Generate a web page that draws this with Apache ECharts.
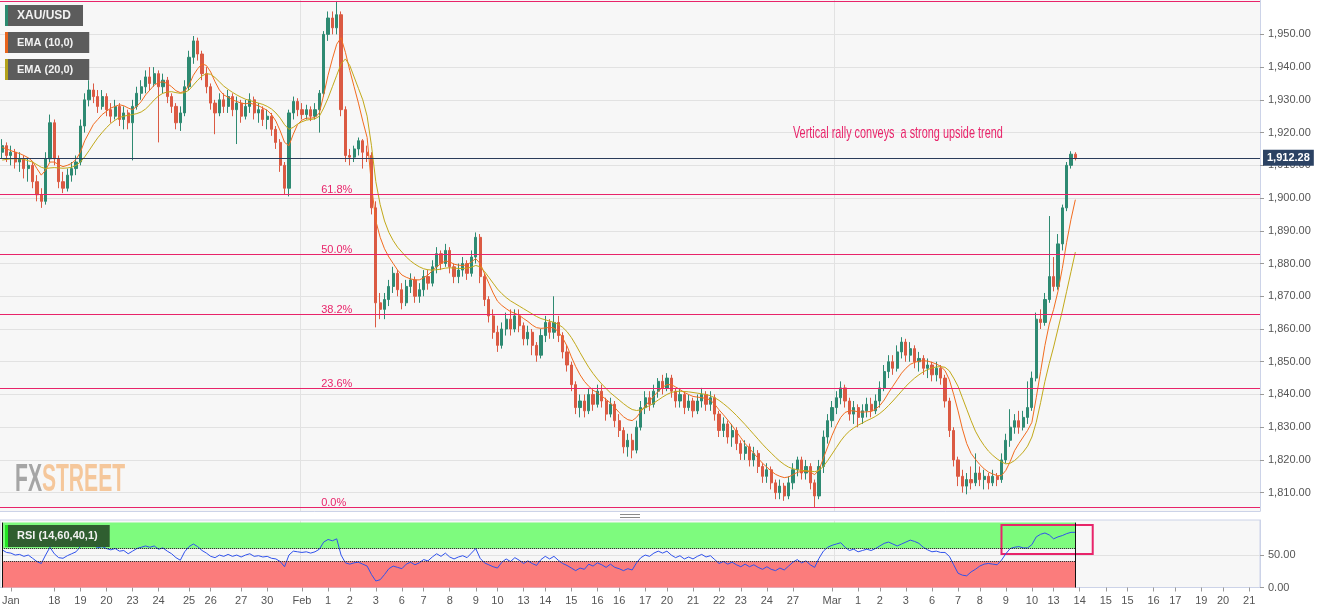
<!DOCTYPE html>
<html>
<head>
<meta charset="utf-8">
<script src="https://cdn.jsdelivr.net/npm/echarts@6/dist/echarts.min.js"></script>
<style>
html,body{margin:0;padding:0;background:#ffffff;}
#chart{width:1331px;height:615px;}
</style>
</head>
<body>
<div id="chart"></div>
<script>
// ---- DATA (4-hour XAU/USD candles: [open, close, low, high]) ----
const candlesJan = [
[1914,1916,1912,1918],[1916,1913,1911,1917],[1913,1914,1910,1916],[1914,1911,1909,1915],[1911,1912,1908,1914],[1912,1909,1906,1913],[1909,1910,1905,1912],[1910,1905,1903,1911],[1905,1901,1899,1907],[1901,1899,1897,1903],
[1899,1912,1898,1914],[1912,1923,1911,1925.5],[1923,1912,1910,1924],[1912,1905,1903,1913],[1905,1903,1901.5,1908],[1903,1907,1902,1909],[1907,1909,1905,1911],[1909,1911,1907,1913],[1911,1922,1910,1924],[1922,1930,1920,1932],
[1930,1933,1928,1936],[1933,1931,1929,1935],[1931,1928,1926,1933],[1928,1931,1927,1933],[1931,1927,1925,1932],[1927,1925,1923,1929],[1925,1928,1924,1930],[1928,1924,1922,1929],[1924,1926,1921,1928],[1926,1923,1921,1927],
[1923,1928,1911.5,1930],[1928,1932,1927,1934],[1932,1934,1930,1936],[1934,1937,1932,1939],[1937,1935,1933,1940],[1935,1938,1934,1940],[1938,1934,1917,1939],[1934,1936,1932,1938],[1936,1931,1929,1937],[1931,1928,1926,1932],
[1928,1923,1921,1929],[1923,1926,1920.5,1928],[1926,1934,1925,1936],[1934,1943,1933,1945],[1943,1948,1941,1949.5],[1948,1944,1942,1949],[1944,1938,1936,1945],[1938,1934,1932,1940],[1934,1929,1927,1935],[1929,1926,1919.5,1930],
[1926,1930,1925,1932],[1930,1928,1926,1932],[1928,1931,1926,1933],[1931,1927,1925,1932],[1927,1929,1916.5,1931],[1929,1925,1923,1930],[1925,1928,1924,1930],[1928,1930,1926,1932],[1930,1926,1924,1931],[1926,1927,1923,1929],
[1927,1924,1922,1928],[1924,1925,1921,1927],[1925,1921,1919,1926],[1921,1917,1915,1922],[1917,1910,1908,1918],[1910,1903,1901,1911],[1903,1926,1900.5,1927],[1926,1929.5,1924,1931],[1929.5,1927,1925,1930.5]
];
const candlesFeb = [
[1927,1925.5,1924,1929],[1925.5,1927,1924,1928.5],[1927,1925,1923.5,1928],[1925,1927,1924,1929],[1927,1932,1920,1933],[1932,1950,1931,1951],[1950,1955,1948,1957],[1955,1952,1950,1957],[1952,1956,1950,1960.2],[1956,1927,1925,1957],
[1927,1913,1911,1928],[1913,1912.5,1910,1915],[1912.5,1915,1911,1916],[1915,1917.5,1913,1918.5],[1917.5,1914,1909,1918],[1914,1913,1911,1916],[1913,1897,1895,1914],[1897,1868,1860.5,1899],[1868,1866,1863,1871],[1866,1869,1863,1871],
[1869,1873,1867,1875],[1873,1877,1871,1879],[1877,1872,1870,1878],[1872,1868,1866,1874],[1868,1873,1867,1875],[1873,1875,1871,1877],[1875,1870,1868,1876],[1870,1872,1868,1874],[1872,1876,1870,1878],[1876,1874,1872,1878],
[1874,1879,1873,1881],[1879,1883,1877,1885],[1883,1880,1878,1884],[1880,1884,1879,1886],[1884,1879,1877,1885],[1879,1876,1874,1880],[1876,1878,1874,1880],[1878,1880,1876,1882],[1880,1877,1875,1881],[1877,1882,1876,1884],
[1882,1888,1880,1889.5],[1888,1876,1874,1889],[1876,1869,1867,1877],[1869,1864,1862,1870],[1864,1859,1857,1866],[1859,1855,1853,1861],[1855,1860,1854,1862],[1860,1863,1858,1865],[1863,1860,1858,1866],[1860,1864,1859,1866],
[1864,1861,1859,1866],[1861,1857,1855,1862],[1857,1859,1855,1861],[1859,1855,1852,1860],[1855,1852,1850,1856],[1852,1858,1851,1860],[1858,1862,1856,1864],[1862,1859,1857,1863],[1859,1862,1857,1870],[1862,1858,1856,1864],
[1858,1853,1851,1859],[1853,1849,1847,1855],[1849,1843,1841,1850],[1843,1836,1834,1844],[1836,1838,1833,1840],[1838,1835,1833,1840],[1835,1840,1834,1842],[1840,1837,1835,1842],[1837,1841,1836,1843],[1841,1838,1836,1843],
[1838,1834,1832,1839],[1834,1837,1833,1839],[1837,1832,1830,1838],[1832,1829,1827,1834],[1829,1824,1822,1830],[1824,1826,1821,1828],[1826,1823,1820.5,1828],[1823,1830,1822,1832],[1830,1836,1829,1838],[1836,1839,1834,1841],
[1839,1837,1835,1841],[1837,1841,1836,1843],[1841,1844,1839,1845],[1844,1842,1840,1846],[1842,1845,1841,1846.5],[1845,1841,1839,1846],[1841,1838,1836,1842],[1838,1840,1836,1842],[1840,1836,1834,1841],[1836,1838,1835,1840],
[1838,1835,1833,1839],[1835,1838,1834,1840],[1838,1840,1836,1842],[1840,1837,1835,1841],[1837,1839,1835,1841],[1839,1834,1832,1840],[1834,1829,1827,1835],[1829,1831,1827,1833],[1831,1827,1825,1832],[1827,1829,1824,1831],
[1829,1825,1823,1830],[1825,1822,1820,1826],[1822,1824,1820,1826],[1824,1820,1818,1825],[1820,1822,1818,1824],[1822,1818,1816,1823],[1818,1815,1813,1819],[1815,1817,1813,1819],[1817,1813,1811,1818],[1813,1810,1808,1814],
[1810,1812,1808,1814],[1812,1809,1807.5,1813],[1809,1813,1808,1815],[1813,1817,1811,1819],[1817,1820,1815,1821],[1820,1816,1814,1821],[1816,1818,1814,1820],[1818,1813,1811,1819],[1813,1809,1805.5,1814],[1809,1818,1808,1820],
[1818,1827,1816,1829],[1827,1832,1825,1834]
];
const candlesMar = [
[1832,1836,1830,1838],[1836,1839,1834,1841],[1839,1842,1837,1844],[1842,1838,1836,1843],[1838,1834,1832,1839],[1834,1836,1831,1838],[1836,1833,1830,1837],[1833,1835,1831,1837],[1835,1837,1833,1839],[1837,1835,1833,1839],
[1835,1838,1834,1840],[1838,1842,1836,1844],[1842,1847,1841,1849],[1847,1850,1845,1852],[1850,1848,1846,1852],[1848,1853,1847,1855],[1853,1856,1851,1857.5],[1856,1852,1850,1857],[1852,1854,1850,1856],[1854,1850,1848,1855],
[1850,1851,1847,1853],[1851,1848,1846,1852],[1848,1849,1845,1851],[1849,1846,1844,1850],[1846,1848,1844,1850],[1848,1845,1843,1849],[1845,1838,1836,1846],[1838,1829,1827,1839],[1829,1820,1818,1830],[1820,1815,1812,1821],
[1815,1812,1810,1817],[1812,1814,1809.5,1816],[1814,1813,1811,1818],[1813,1816,1812,1822],[1816,1814,1812,1818],[1814,1815,1811,1817],[1815,1813,1811,1816],[1813,1815,1812,1817],[1815,1814,1812,1816],[1814,1820,1813,1822],
[1820,1826,1819,1828],[1826,1830,1824,1835.5],[1830,1832,1828,1834],[1832,1830,1828,1835],[1830,1833,1829,1835],[1833,1836,1831,1844],[1836,1845,1835,1847],[1845,1863,1844,1865],[1863,1862,1860,1866],[1862,1869,1861,1871],
[1869,1876,1868,1894.5],[1876,1873,1871.5,1882],[1873,1886,1872,1889],[1886,1897,1884,1898],[1897,1910,1896,1911],[1910,1913.4,1909,1914.3],[1913.4,1912.28,1911.5,1914]
];

// EMA (10,0) and EMA (20,0) lines, one value per candle
const ema10Values = [
1915.5,1915,1914.5,1914,1913.6,1913,1912.3,1911.2,1909,1907,
1908.5,1911,1911,1910.2,1909.6,1910,1910.6,1911.8,1914,1917.5,
1920,1922.5,1924,1925.5,1926.5,1927.5,1928,1928.5,1928.2,1927.5,
1927,1928,1929.5,1931.5,1933,1934.5,1935.3,1935.5,1935,1934,
1932.8,1932.2,1932.6,1934.5,1937.5,1939.5,1941,1940.5,1938.5,1935.5,
1933,1931.5,1930.8,1930,1929.5,1929,1928.8,1929,1928.6,1928.2,
1927.5,1926.8,1925.5,1923.5,1920.5,1917,1916,1919.5,1922.5,1923.8,
1924.4,1924.4,1924.6,1926,1931.5,1937.5,1942.5,1947,1949,1944.5,
1939,1934,1929,1923.5,1918.5,1904,1893,1888,1884.5,1882,
1880,1878,1876.5,1875.8,1875.3,1875,1875,1875.6,1876.5,1877.8,
1879,1880,1880.8,1880.5,1879.8,1879.5,1879.4,1879.6,1880.5,1881.5,
1880,1877,1874,1871,1868.5,1867.2,1866.2,1865.3,1864.8,1864.2,
1863.2,1862.3,1861.2,1860.4,1860.2,1860.3,1860.5,1860.3,1859.2,1857.3,
1854.8,1851.5,1848.5,1846,1844,1842.5,1841.3,1840.5,1839.5,1838.5,
1837.4,1836,1834.5,1833.2,1832.3,1832,1833,1834.8,1836.5,1838,
1839.5,1841,1842.2,1843,1843,1842.3,1841.5,1840.6,1840,1839.4,
1839.2,1839,1838.8,1838.3,1837,1835.3,1833.8,1832.2,1830.5,1828.6,
1826.8,1825,1823.5,1822,1820.5,1819,1817.8,1816.6,1815.6,1815,
1814.6,1814.8,1815.5,1816.2,1816.5,1816.6,1816.3,1815.5,1817,1820.5,
1824,1827.5,1830.5,1833,1834.5,1835,1835,1834.7,1834.6,1834.7,
1834.8,1835.5,1836.6,1838.3,1840.5,1842.5,1844.5,1846.5,1848,1849.2,
1849.8,1850.2,1850.3,1850.2,1849.8,1849.3,1848.6,1847.3,1844.5,1840,
1835,1829.5,1825,1822,1820.2,1818.6,1817.3,1816.3,1815.7,1815.2,
1815.2,1816.8,1819.5,1822.8,1825,1827,1829,1831.5,1839,1847,
1855,1861.5,1866,1871.5,1878.5,1886.5,1893.5,1899.5
];
const ema20Values = [
1911.6,1911.8,1912,1912,1912,1911.8,1911.4,1911,1910.2,1909.4,
1909,1909.2,1909.3,1909.2,1909.1,1909.2,1909.4,1910,1911,1912.6,
1914.5,1916.5,1918.4,1920,1921.5,1922.8,1923.8,1924.6,1925,1925.3,
1925.5,1925.8,1926.3,1927.2,1928.5,1930,1931.2,1932,1932.4,1932.5,
1932.2,1932,1932.2,1933,1934.5,1936,1937.3,1938,1937.8,1936.8,
1935.5,1934.2,1933.2,1932.3,1931.5,1930.8,1930.2,1929.8,1929.4,1929,
1928.6,1928,1927.2,1926,1924.4,1922.4,1921,1921.6,1922.6,1923.3,
1923.8,1924,1924.2,1925,1927.5,1930.5,1934,1937.5,1941,1942.5,
1940.5,1937,1933.5,1930,1925,1916,1905,1898,1893,1889.5,
1887,1885,1883.5,1882,1880.8,1879.8,1879,1878.4,1878.1,1878,
1878.1,1878.3,1878.6,1878.7,1878.6,1878.5,1878.5,1878.6,1878.9,1879.4,
1879,1877.6,1875.8,1874,1872.2,1870.8,1869.6,1868.6,1867.8,1867,
1866.2,1865.4,1864.6,1863.8,1863.2,1862.8,1862.4,1862,1861.4,1860.5,
1859.2,1857.4,1855.2,1852.8,1850.5,1848.3,1846.4,1844.7,1843.2,1841.8,
1840.5,1839.4,1838.3,1837.2,1836.2,1835.4,1835.1,1835.3,1835.9,1836.6,
1837.4,1838.3,1839.2,1840,1840.6,1840.9,1841,1840.9,1840.8,1840.6,
1840.4,1840.2,1840,1839.6,1839,1838.2,1837.2,1836.1,1834.9,1833.6,
1832.2,1830.8,1829.3,1827.8,1826.3,1824.8,1823.4,1822.1,1820.8,1819.6,
1818.6,1817.8,1817.3,1817,1816.8,1816.7,1816.6,1816.4,1816.8,1818,
1819.8,1821.8,1823.8,1825.8,1827.5,1828.8,1829.8,1830.6,1831.3,1832,
1832.6,1833.3,1834.2,1835.3,1836.6,1838,1839.5,1841,1842.5,1843.8,
1845,1846,1846.9,1847.6,1848.1,1848.4,1848.5,1848.3,1847.2,1845,
1842.5,1839,1835.5,1832,1828.8,1826.4,1824.4,1822.7,1821.4,1820.3,
1819.4,1818.8,1819,1819.8,1821,1822.4,1824.2,1827,1831.5,1837.5,
1844,1849.5,1854.5,1860,1865.5,1871.5,1877.5,1883.5
];
// RSI (14,60,40,1), one value per candle
const rsiValues = [
58,54,53,50,51,48,50,45,40,37,
50,62,52,46,45,49,52,55,63,70,
68,65,61,63,60,58,60,56,57,52,
56,60,62,64,62,64,59,61,56,52,
46,42,55,63,67,63,57,53,48,46,
50,48,51,48,50,47,50,52,48,49,
47,48,45,44,40,32,50,56,55,54,
55,53,55,59,70,74,72,75,50,38,
36,38,39,36,33,20,10,12,20,29,
33,31,29,36,39,35,38,43,41,47,
52,48,53,47,44,47,49,46,53,60,
45,38,35,32,30,39,44,40,46,42,
37,41,37,34,43,48,44,48,42,37,
34,30,26,30,28,36,33,38,35,31,
36,31,29,26,29,27,38,46,50,48,
53,56,53,56,50,46,49,44,47,44,
48,51,47,49,43,37,40,36,39,35,
32,36,32,35,31,28,32,28,26,30,
27,33,39,43,38,41,35,31,45,56,
62,65,67,69,62,57,59,55,57,59,
57,60,64,68,70,67,64,67,70,73,
71,68,62,58,55,56,54,54,48,35,
22,19,18,24,28,33,36,37,36,35,
42,52,60,62,63,61,61,66,78,82,
84,81,75,78,80,83,85,85
];

// x-axis tick labels and the candle slot each one sits on
const tickLabels = ['Jan','18','19','20','23','24','25','26','27','30','Feb','1','2','3','6','7','8','9','10','13','14','15','16','16','17','20','21','22','23','24','27','Mar','1','2','3','6','7','8','9','10','13','14','15','15','16','17','19','20','21'];
const tickIndex  = [2,12,18,24,30,36,43,48,55,61,69,75,80,86,92,97,103,109,114,120,125,131,137,142,148,153,159,165,170,176,182,191,197,202,208,214,220,225,231,237,242,248,254,259,265,270,276,281,287];
const monthLineIndex = [69,192];
const priceTicks = [1810,1820,1830,1840,1850,1860,1870,1880,1890,1900,1910,1920,1930,1940,1950];
const rsiTicks = [0,50];

// Fibonacci retracement of the Feb-2 high / Feb-28 low swing
const fibLow = 1805.5;
const fibHigh = 1960.2;
const fibPercents = [0, 23.6, 38.2, 50, 61.8, 100];
const fibLabelSlot = 74;

const annotationText = 'Vertical rally conveys  a strong upside trend';
const annotationSlot = 182;
const annotationPrice = 1919.8;

const rsiBoxSlots = [230, 251];
const rsiBoxRange = [51.5, 96.3];
const totalSlots = 290;

// ---- BUILD ----
const candles = candlesJan.concat(candlesFeb, candlesMar);
const D = candles.length;
const lastClose = candles[D - 1][1];
const categories = Array.from({length: totalSlots}, (_, i) => String(i));
const labelAt = {};
tickIndex.forEach((ix, k) => { labelAt[ix] = tickLabels[k]; });
const isTick = (i) => labelAt[i] !== undefined;
const fmt2 = v => Number(v).toLocaleString('en-US', {minimumFractionDigits: 2, maximumFractionDigits: 2});
const fibPrice = p => fibLow + (fibHigh - fibLow) * p / 100;

const PINK = '#e8246a';
const SANS = "'Liberation Sans', Arial, sans-serif";

function legendBox(text, strip, top, size, padR, bg, h) {
  return {
    left: 5, top: top, padding: 0, backgroundColor: bg,
    text: '{s|}{t|' + text + '}',
    textStyle: { rich: {
      s: { width: 3, height: h, backgroundColor: strip },
      t: { color: '#f2f2f2', fontSize: size, fontWeight: 'bold', fontFamily: SANS, padding: [0, padR, 0, 9], lineHeight: h, height: h }
    } }
  };
}

const fibLines = fibPercents.map(p => ({ yAxis: fibPrice(p), lineStyle: { color: PINK, width: 1, type: 'solid' }, label: { show: false } }));
const priceLine = {
  yAxis: lastClose,
  lineStyle: { color: '#2a3c5a', width: 1, type: 'solid' },
  label: { show: true, position: 'end', distance: 3, formatter: fmt2(lastClose), backgroundColor: '#2b4263', color: '#ffffff', fontWeight: 'bold', fontSize: 11, padding: [3, 4, 2, 4], fontFamily: SANS }
};
const fibLabels = fibPercents.filter(p => p < 100).map(p => ({
  coord: [categories[fibLabelSlot], fibPrice(p)],
  label: { show: true, formatter: p.toFixed(1) + '%', position: [-2, -9], color: PINK, fontSize: 11, fontFamily: SANS }
}));

const option = {
  animation: false,
  backgroundColor: '#ffffff',
  textStyle: { fontFamily: SANS },
  title: [
    legendBox('XAU/USD', '#2b8a6f', 5, 12, 12, '#5c5c5c', 21),
    legendBox('EMA (10,0)', '#e8641c', 32, 11, 16, '#5c5c5c', 21),
    legendBox('EMA (20,0)', '#b3a21a', 59, 11, 16, '#5c5c5c', 21),
    legendBox('RSI (14,60,40,1)', '#22e622', 525, 11, 12, '#2f5e30', 22)
  ],
  graphic: [
    { id: 'split1', type: 'rect', shape: { x: 620, y: 514, width: 20, height: 1 }, style: { fill: '#8a8a8a' }, silent: true },
    { id: 'split2', type: 'rect', shape: { x: 620, y: 517, width: 20, height: 1 }, style: { fill: '#8a8a8a' }, silent: true },
    { id: 'logo', type: 'text', x: 15, y: 461, scaleX: 0.62, scaleY: 1.12, silent: true, z: 1,
      style: { text: '{a|FX}{b|STREET}', verticalAlign: 'top', align: 'left',
        rich: {
          a: { fill: '#a5a5a5', fontSize: 34, fontWeight: 'bold', fontFamily: SANS },
          b: { fill: '#f5c79b', fontSize: 34, fontWeight: 'bold', fontFamily: SANS }
        } } }
  ],
  grid: [
    { left: 0, right: 71, top: 0, height: 511, show: true, backgroundColor: '#f7f7f7', borderWidth: 0, outerBoundsMode: 'none' },
    { left: 0, right: 71, top: 520, height: 67.5, show: true, backgroundColor: '#f7f7f7', borderColor: '#ccd3e8', borderWidth: 1, outerBoundsMode: 'none' }
  ],
  xAxis: [
    { type: 'category', gridIndex: 0, data: categories, boundaryGap: true,
      axisLine: { show: true, lineStyle: { color: '#ccd3e8' } }, axisTick: { show: false }, axisLabel: { show: false },
      splitLine: { show: true, interval: (i) => monthLineIndex.includes(i), lineStyle: { color: '#e2e2e2', width: 1 } } },
    { type: 'category', gridIndex: 1, data: categories, boundaryGap: true,
      axisLine: { show: true, lineStyle: { color: '#ccd3e8' } },
      axisTick: { show: true, alignWithLabel: true, interval: isTick, length: 4, lineStyle: { color: '#9a9a9a' } },
      axisLabel: { show: true, interval: isTick, formatter: (v) => labelAt[Number(v)] || '', color: '#555555', fontSize: 11, margin: 8 },
      splitLine: { show: true, interval: (i) => monthLineIndex.includes(i), lineStyle: { color: '#e2e2e2', width: 1 } } }
  ],
  yAxis: [
    { type: 'value', gridIndex: 0, position: 'right', min: 1804.4, max: 1960.5,
      axisLine: { show: true, lineStyle: { color: '#ccd3e8' } },
      axisTick: { show: true, length: 4, customValues: priceTicks, lineStyle: { color: '#9a9a9a' } },
      axisLabel: { show: true, customValues: priceTicks, formatter: fmt2, color: '#555555', fontSize: 11, margin: 8 },
      splitLine: { show: true, lineStyle: { color: '#e2e2e2', width: 1 } } },
    { type: 'value', gridIndex: 1, position: 'right', min: 0, max: 104,
      axisLine: { show: true, lineStyle: { color: '#ccd3e8' } },
      axisTick: { show: true, length: 4, customValues: rsiTicks, lineStyle: { color: '#9a9a9a' } },
      axisLabel: { show: true, customValues: rsiTicks, formatter: (v) => Number(v).toFixed(2), color: '#555555', fontSize: 11, margin: 8 },
      splitLine: { show: true, lineStyle: { color: '#e2e2e2', width: 1 } } }
  ],
  series: [
    { name: 'XAU/USD', type: 'candlestick', xAxisIndex: 0, yAxisIndex: 0, data: candles, barWidth: '62%',
      itemStyle: { color: '#2e8a72', color0: '#db5a43', borderColor: '#2e8a72', borderColor0: '#db5a43', borderWidth: 1 },
      markLine: { silent: true, symbol: ['none', 'none'], animation: false, data: fibLines.concat([priceLine]) },
      markPoint: { silent: true, symbol: 'circle', symbolSize: 1, itemStyle: { color: 'rgba(0,0,0,0)' }, animation: false, data: fibLabels }
    },
    { name: 'EMA (10,0)', type: 'line', xAxisIndex: 0, yAxisIndex: 0, data: ema10Values, showSymbol: false, symbol: 'none', silent: true,
      lineStyle: { color: '#f26c1f', width: 1 }, z: 3 },
    { name: 'EMA (20,0)', type: 'line', xAxisIndex: 0, yAxisIndex: 0, data: ema20Values, showSymbol: false, symbol: 'none', silent: true,
      lineStyle: { color: '#c2a91a', width: 1 }, z: 3 },
    { name: 'RSI', type: 'line', xAxisIndex: 1, yAxisIndex: 1, data: rsiValues, showSymbol: false, symbol: 'none', silent: true,
      lineStyle: { color: '#2f52ec', width: 1 }, z: 4,
      markArea: { silent: true, animation: false, data: [
        [{ xAxis: categories[0], yAxis: 60, itemStyle: { color: '#7efb7e', opacity: 1, borderWidth: 0 } }, { xAxis: categories[D - 1], yAxis: 100 }],
        [{ xAxis: categories[0], yAxis: 0, itemStyle: { color: '#fb7c7c', opacity: 1, borderWidth: 0 } }, { xAxis: categories[D - 1], yAxis: 40 }],
        [{ xAxis: categories[rsiBoxSlots[0]], yAxis: rsiBoxRange[0], itemStyle: { color: 'rgba(0,0,0,0)', opacity: 1, borderColor: PINK, borderWidth: 2 } }, { xAxis: categories[rsiBoxSlots[1]], yAxis: rsiBoxRange[1] }]
      ] },
      markLine: { silent: true, symbol: ['none', 'none'], animation: false, label: { show: false }, data: [
        [{ coord: [categories[0], 60], lineStyle: { color: '#111', type: 'dotted', width: 1 } }, { coord: [categories[D - 1], 60] }],
        [{ coord: [categories[0], 40], lineStyle: { color: '#111', type: 'dotted', width: 1 } }, { coord: [categories[D - 1], 40] }],
        [{ coord: [categories[D - 1], 0], lineStyle: { color: '#111', type: 'solid', width: 1 } }, { coord: [categories[D - 1], 100] }],
        [{ coord: [categories[0], 0], lineStyle: { color: '#111', type: 'solid', width: 1 } }, { coord: [categories[0], 100] }]
      ] }
    }
  ]
};

const chart = echarts.init(document.getElementById('chart'), null, { renderer: 'canvas', width: 1331, height: 615 });
chart.setOption(option);
// annotation anchored to its data position, drawn in a condensed form
const ap = chart.convertToPixel({ xAxisIndex: 0, yAxisIndex: 0 }, [categories[annotationSlot], annotationPrice]);
chart.setOption({ graphic: [
  { id: 'annot', type: 'text', x: ap[0], y: ap[1], scaleX: 0.64, silent: true, z: 10,
    style: { text: annotationText, fill: PINK, fontSize: 17, fontFamily: SANS, verticalAlign: 'middle', align: 'left' } }
] });
</script>
</body>
</html>
